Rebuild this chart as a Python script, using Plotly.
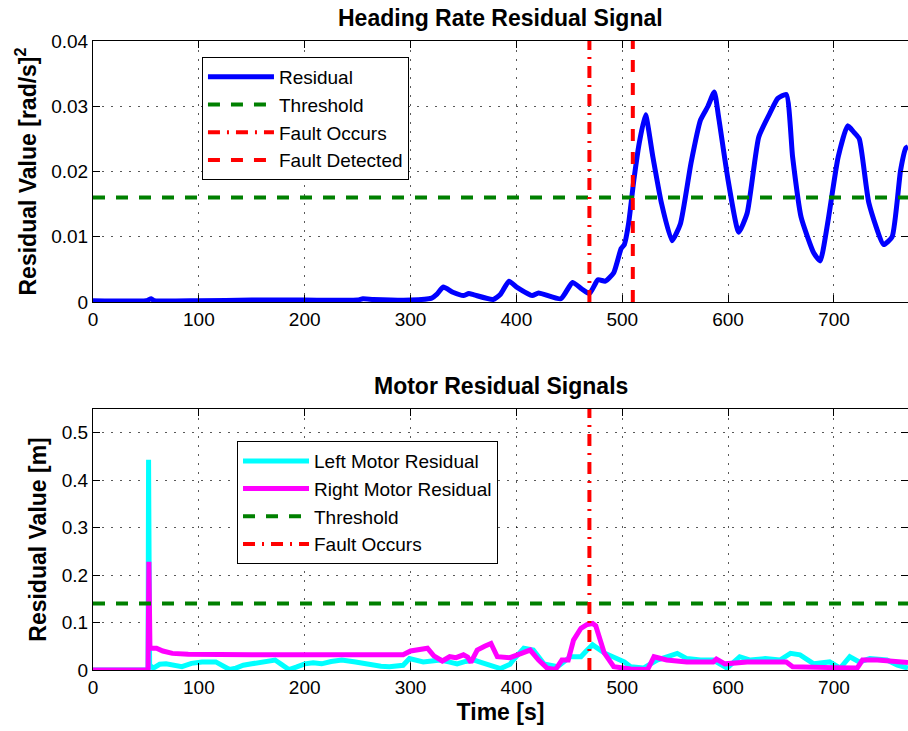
import plotly.graph_objects as go

# ---------------- data ----------------
hr_time = [0, 50, 55, 58, 100, 150, 200, 250, 255, 265, 300, 320, 325, 331, 340, 350, 355, 360,
           378, 385, 393, 401, 415, 421, 442, 453, 461, 469, 477, 484, 492, 499, 502, 506, 511,
           516, 522, 529, 537, 547, 555, 565, 574, 581, 587, 591, 600, 610, 618, 629, 640, 647,
           655, 661, 669, 681, 687, 694, 704, 713, 719, 724, 733, 747, 755, 763, 768, 770]
hr_resid = [0.0002, 0.0002, 0.0005, 0.0002, 0.0002, 0.0003, 0.0003, 0.0003, 0.0005, 0.0004, 0.0003,
            0.0006, 0.0012, 0.0023, 0.0015, 0.0010, 0.0013, 0.0011, 0.0004, 0.0012, 0.0032, 0.0022,
            0.0010, 0.0014, 0.0005, 0.0030, 0.0021, 0.0013, 0.0034, 0.0032, 0.0045, 0.0082, 0.0088,
            0.0120, 0.0187, 0.0243, 0.0287, 0.0222, 0.0152, 0.0094, 0.0120, 0.0213, 0.0279, 0.0300,
            0.0322, 0.0284, 0.0187, 0.0107, 0.0136, 0.0253, 0.0291, 0.0312, 0.0318, 0.0222, 0.0130,
            0.0075, 0.0063, 0.0120, 0.0222, 0.0270, 0.0260, 0.0250, 0.0152, 0.0088, 0.0100, 0.0202,
            0.0236, 0.0238]
hr_threshold = 0.016

left_time = [0, 52, 52.5, 53.5, 57, 63, 69, 76, 84, 93, 103, 116, 124, 129, 135, 142, 150, 160, 172,
             178, 185, 192, 200, 208, 216, 225, 235, 248, 256, 264, 272, 280, 288, 293, 299, 312,
             320, 328, 336, 344, 352, 360, 368, 375, 385, 394, 397, 407, 416, 426, 439, 451, 461,
             466, 472, 483, 492, 502, 508, 520, 533, 545, 552, 561, 574, 586, 599, 611, 621, 635,
             649, 659, 668, 681, 696, 706, 715, 724, 734, 750, 760, 770]
left_resid = [0.0, 0.0, 0.443, 0.010, 0.004, 0.012, 0.013, 0.009, 0.007, 0.014, 0.017, 0.017, 0.008,
              0.001, 0.004, 0.010, 0.013, 0.017, 0.021, 0.012, 0.001, 0.006, 0.013, 0.015, 0.013,
              0.018, 0.021, 0.017, 0.014, 0.010, 0.008, 0.007, 0.009, 0.010, 0.024, 0.017, 0.019,
              0.021, 0.017, 0.013, 0.018, 0.021, 0.015, 0.010, 0.003, 0.012, 0.021, 0.046, 0.042,
              0.013, 0.007, 0.028, 0.028, 0.040, 0.053, 0.036, 0.028, 0.017, 0.007, 0.004, 0.021,
              0.030, 0.035, 0.024, 0.021, 0.021, 0.004, 0.028, 0.021, 0.024, 0.021, 0.035, 0.032,
              0.013, 0.017, 0.004, 0.028, 0.017, 0.024, 0.021, 0.010, 0.004]

right_time = [0, 52, 52.8, 53.8, 60, 66, 75, 90, 150, 200, 250, 293, 300, 310, 316, 322, 330, 337,
              343, 350, 354, 357, 363, 370, 376, 382, 394, 401, 413, 421, 429, 437, 443, 449, 454,
              461, 467, 472, 475, 483, 492, 508, 524, 530, 542, 561, 586, 589, 597, 618, 655, 661,
              677, 700, 722, 727, 741, 770]
right_resid = [0.0, 0.0, 0.228, 0.046, 0.046, 0.040, 0.035, 0.033, 0.032, 0.032, 0.032, 0.032, 0.040,
               0.044, 0.046, 0.030, 0.019, 0.028, 0.026, 0.032, 0.027, 0.016, 0.042, 0.050, 0.056,
               0.028, 0.026, 0.032, 0.042, 0.021, 0.004, 0.001, 0.021, 0.021, 0.063, 0.088, 0.096,
               0.098, 0.093, 0.036, 0.007, 0.002, 0.001, 0.028, 0.021, 0.017, 0.017, 0.023, 0.013,
               0.017, 0.017, 0.007, 0.007, 0.005, 0.004, 0.021, 0.021, 0.016]
motor_threshold = 0.14

fault_occurs_t = 469
fault_detected_t = 510
t_max = 770
x_ticks = [0, 100, 200, 300, 400, 500, 600, 700]

# ---------------- figure ----------------
FONT = "Liberation Sans, Arial, sans-serif"
DASH = "12px,11px"
DASHDOT = "12px,7px,2px,7px"

fig = go.Figure()

fig.add_trace(go.Scatter(x=hr_time, y=hr_resid, mode="lines", name="Residual",
                         line=dict(color="#0000ff", width=5, shape="spline", smoothing=0.5),
                         legendgroup="a", xaxis="x", yaxis="y", legend="legend"))
fig.add_trace(go.Scatter(x=[0, t_max], y=[hr_threshold, hr_threshold], mode="lines", name="Threshold",
                         line=dict(color="#008000", width=4, dash=DASH), legendgroup="b",
                         xaxis="x", yaxis="y", legend="legend"))
fig.add_trace(go.Scatter(x=[fault_occurs_t, fault_occurs_t], y=[0, 0.04], mode="lines", name="Fault Occurs",
                         line=dict(color="#ff0000", width=4, dash=DASHDOT), legendgroup="c",
                         xaxis="x", yaxis="y", legend="legend"))
fig.add_trace(go.Scatter(x=[fault_detected_t, fault_detected_t], y=[0, 0.04], mode="lines", name="Fault Detected",
                         line=dict(color="#ff0000", width=4, dash=DASH), legendgroup="d",
                         xaxis="x", yaxis="y", legend="legend"))

fig.add_trace(go.Scatter(x=left_time, y=left_resid, mode="lines", name="Left Motor Residual",
                         line=dict(color="#00ffff", width=5), legendgroup="e",
                         xaxis="x2", yaxis="y2", legend="legend2"))
fig.add_trace(go.Scatter(x=right_time, y=right_resid, mode="lines", name="Right Motor Residual",
                         line=dict(color="#ff00ff", width=5), legendgroup="f",
                         xaxis="x2", yaxis="y2", legend="legend2"))
fig.add_trace(go.Scatter(x=[0, t_max], y=[motor_threshold, motor_threshold], mode="lines", name="Threshold",
                         line=dict(color="#008000", width=4, dash=DASH), legendgroup="g",
                         xaxis="x2", yaxis="y2", legend="legend2"))
fig.add_trace(go.Scatter(x=[fault_occurs_t, fault_occurs_t], y=[0, 0.55], mode="lines", name="Fault Occurs",
                         line=dict(color="#ff0000", width=4, dash=DASHDOT), legendgroup="h",
                         xaxis="x2", yaxis="y2", legend="legend2"))

axis_common = dict(showline=True, linecolor="black", linewidth=1, mirror="ticks",
                   ticks="inside", ticklen=7, tickcolor="black", tickwidth=1,
                   showgrid=True, gridcolor="rgba(0,0,0,0.65)", gridwidth=1, griddash="2px,7px",
                   zeroline=False, tickfont=dict(family=FONT, size=19, color="black"))

legend_common = dict(bgcolor="white", bordercolor="black", borderwidth=1,
                     font=dict(family=FONT, size=19, color="black"),
                     xanchor="left", yanchor="top", itemwidth=66, tracegroupgap=0,
                     traceorder="grouped")

fig.update_layout(
    width=908, height=731,
    margin=dict(l=93, r=0, t=41, b=61),
    paper_bgcolor="white", plot_bgcolor="white",
    font=dict(family=FONT, color="black"),
    showlegend=True,
    xaxis=dict(domain=[0, 1], range=[0, t_max], tickvals=x_ticks, anchor="y", **axis_common),
    yaxis=dict(domain=[0.585, 1], range=[0, 0.04], dtick=0.01, tick0=0, anchor="x",
               title=dict(text="<b>Residual Value [rad/s]<sup>2</sup></b>", standoff=8,
                          font=dict(family=FONT, size=23, color="black")), **axis_common),
    xaxis2=dict(domain=[0, 1], range=[0, t_max], tickvals=x_ticks, anchor="y2",
                title=dict(text="<b>Time [s]</b>", standoff=7,
                           font=dict(family=FONT, size=23, color="black")), **axis_common),
    yaxis2=dict(domain=[0, 0.415], range=[0, 0.55], dtick=0.1, tick0=0, anchor="x2",
                title=dict(text="<b>Residual Value [m]</b>", standoff=8,
                           font=dict(family=FONT, size=23, color="black")), **axis_common),
    legend=dict(x=0.1337, y=0.9746, **legend_common),
    legend2=dict(x=0.1767, y=0.364, **legend_common),
    annotations=[
        dict(text="<b>Heading Rate Residual Signal</b>", xref="paper", yref="paper",
             x=0.5, y=1.036, xanchor="center", yanchor="middle", showarrow=False,
             font=dict(family=FONT, size=23, color="black")),
        dict(text="<b>Motor Residual Signals</b>", xref="paper", yref="paper",
             x=0.5, y=0.452, xanchor="center", yanchor="middle", showarrow=False,
             font=dict(family=FONT, size=23, color="black")),
    ],
)

fig.write_html("out.html")
